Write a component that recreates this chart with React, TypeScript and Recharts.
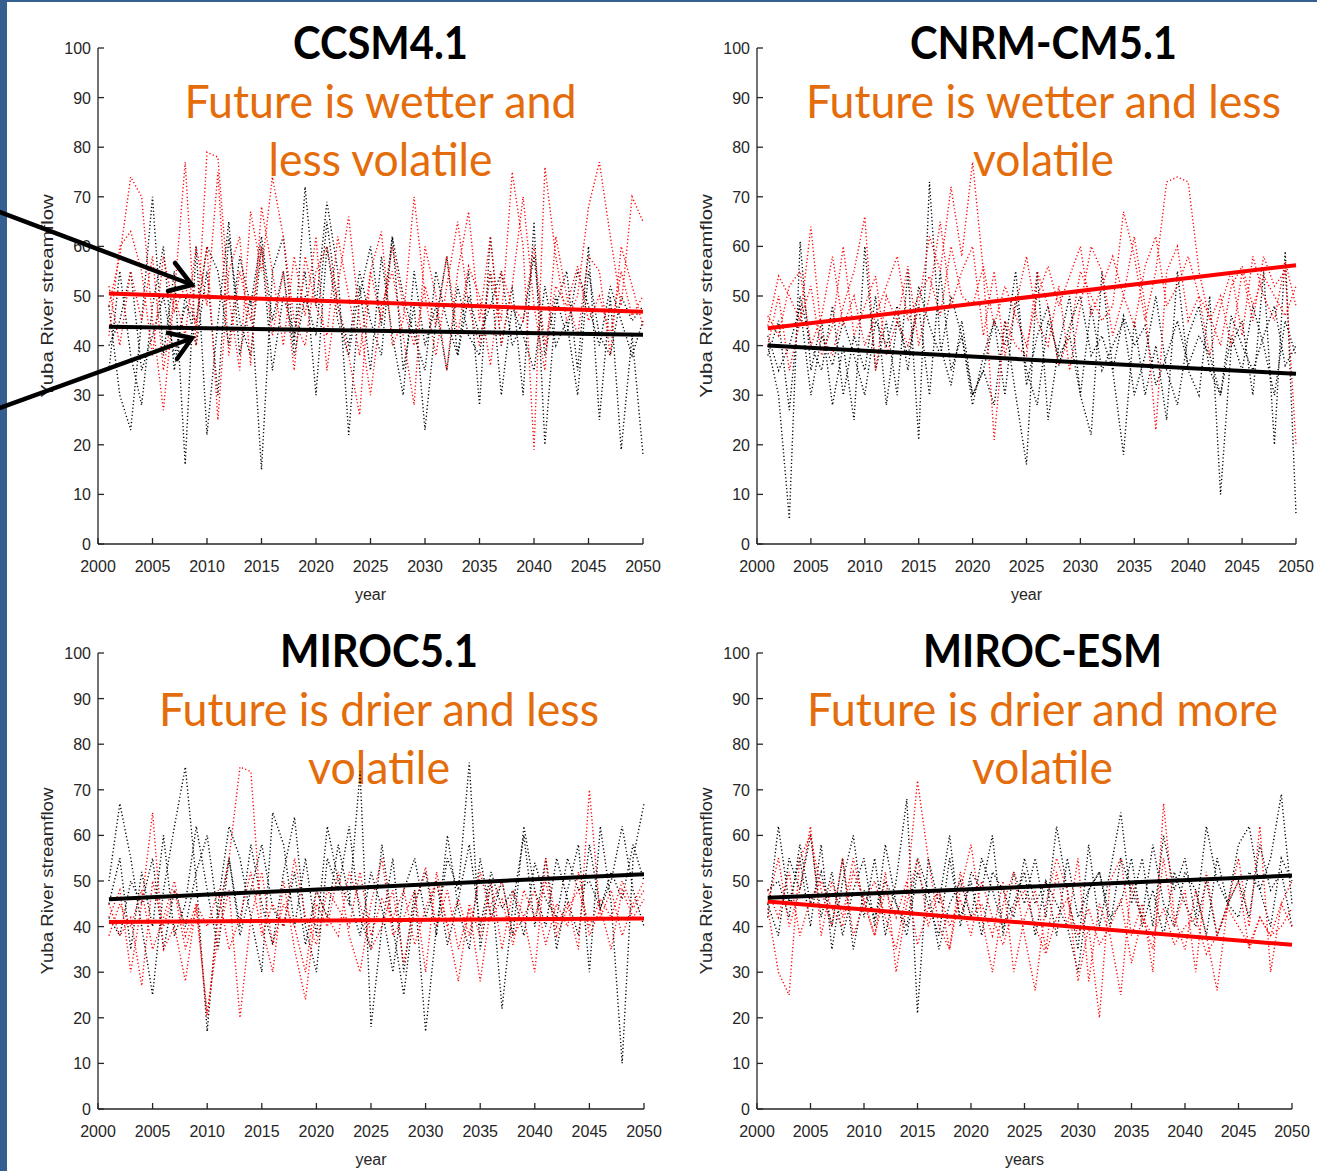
import { LineChart, Line, XAxis, YAxis } from 'recharts';

// simulation years on the x axis
const years = Array.from({ length: 50 }, (_, i) => 2001 + i);
const xTicks = [2000, 2005, 2010, 2015, 2020, 2025, 2030, 2035, 2040, 2045, 2050];
const yTicks = [0, 10, 20, 30, 40, 50, 60, 70, 80, 90, 100];

// ---- CCSM4.1 ----
const ccsmRed1 = [
  48, 58, 74, 70, 45, 27, 50, 77, 40, 79,
  78, 50, 35, 67, 55, 74, 62, 45, 40, 55,
  60, 48, 38, 26, 55, 63, 40, 45, 70, 50,
  38, 52, 65, 48, 40, 55, 45, 75, 60, 19,
  76, 58, 45, 50, 68, 77, 62, 48, 70, 65,
];
const ccsmRed2 = [
  42, 60, 63, 55, 38, 58, 47, 52, 44, 60,
  25, 55, 62, 36, 68, 55, 40, 58, 46, 62,
  35, 52, 66, 45, 30, 48, 55, 42, 28, 60,
  50, 35, 55, 67, 45, 62, 40, 52, 70, 48,
  35, 62, 50, 42, 58, 55, 38, 60, 52, 44,
];
const ccsmRed3 = [
  52, 40, 55, 45, 58, 35, 50, 42, 60, 48,
  75, 38, 55, 45, 60, 42, 55, 35, 58, 48,
  42, 62, 50, 38, 55, 45, 60, 48, 40, 52,
  44, 58, 42, 56, 50, 36, 55, 48, 45, 60,
  40, 52, 48, 56, 45, 50, 42, 55, 46, 50,
];
const ccsmBlack1 = [
  48, 30, 23, 45, 70, 38, 55, 16, 60, 22,
  45, 65, 38, 50, 15, 55, 62, 40, 72, 48,
  69, 55, 22, 50, 60, 44, 62, 35, 48, 23,
  45, 58, 38, 55, 28, 62, 40, 52, 30, 65,
  20, 48, 55, 35, 60, 25, 50, 19, 42, 18,
];
const ccsmBlack2 = [
  35, 55, 38, 28, 48, 60, 35, 50, 40, 55,
  30, 62, 45, 38, 60, 35, 50, 42, 55, 30,
  60, 45, 38, 52, 35, 58, 42, 30, 55, 40,
  48, 35, 52, 42, 38, 55, 30, 48, 42, 35,
  52, 40, 45, 30, 55, 42, 38, 50, 45, 48,
];
const ccsmBlack3 = [
  40, 45, 55, 35, 42, 50, 38, 48, 45, 60,
  55, 40, 58, 48, 62, 45, 55, 38, 50, 42,
  65, 48, 40, 55, 45, 38, 62, 50, 42, 35,
  55, 45, 38, 50, 42, 48, 55, 40, 45, 58,
  38, 50, 42, 55, 48, 40, 52, 45, 38, 45,
];
const ccsmRedTrend = [50.5, 46.8];
const ccsmBlackTrend = [43.8, 42.2];

// ---- CNRM-CM5.1 ----
const cnrmRed1 = [
  44, 54, 50, 45, 64, 42, 38, 48, 55, 66,
  35, 50, 45, 40, 48, 62, 55, 72, 58, 77,
  55, 21, 45, 40, 38, 55, 48, 36, 42, 55,
  50, 45, 48, 67, 58, 45, 55, 73, 74, 73,
  55, 45, 50, 40, 55, 45, 58, 52, 55, 20,
];
const cnrmRed2 = [
  40, 50, 35, 45, 52, 38, 44, 60, 42, 48,
  54, 38, 45, 56, 40, 50, 65, 48, 55, 60,
  42, 55, 38, 48, 58, 45, 40, 52, 35, 48,
  60, 55, 42, 50, 62, 48, 23, 55, 60, 45,
  50, 38, 48, 55, 42, 58, 50, 45, 57, 48,
];
const cnrmRed3 = [
  46, 42, 52, 55, 40, 46, 58, 44, 50, 40,
  46, 52, 58, 45, 50, 54, 46, 60, 50, 48,
  56, 44, 52, 46, 40, 50, 56, 48, 54, 60,
  46, 52, 58, 50, 44, 56, 62, 48, 52, 58,
  50, 46, 40, 52, 56, 48, 54, 50, 46, 52,
];
const cnrmBlack1 = [
  40, 30, 5, 61, 35, 45, 28, 40, 25, 60,
  35, 45, 30, 55, 21, 73, 40, 32, 45, 30,
  35, 28, 45, 30, 16, 55, 25, 40, 50, 30,
  22, 55, 35, 18, 45, 30, 40, 25, 55, 35,
  30, 50, 10, 40, 45, 30, 55, 20, 59, 6,
];
const cnrmBlack2 = [
  38, 45, 27, 50, 40, 35, 48, 30, 42, 35,
  50, 28, 45, 38, 48, 30, 55, 35, 42, 28,
  38, 45, 30, 50, 35, 28, 45, 38, 42, 30,
  48, 35, 40, 45, 30, 38, 50, 35, 28, 42,
  48, 35, 30, 42, 35, 48, 40, 30, 45, 38,
];
const cnrmBlack3 = [
  42, 35, 40, 48, 30, 42, 36, 45, 38, 30,
  45, 40, 48, 35, 52, 44, 38, 50, 42, 30,
  35, 45, 40, 55, 32, 42, 48, 36, 44, 50,
  38, 42, 35, 46, 40, 44, 32, 38, 45, 36,
  42, 38, 30, 46, 40, 35, 42, 48, 36, 40,
];
const cnrmRedTrend = [43.5, 56.2];
const cnrmBlackTrend = [40.0, 34.3];

// ---- MIROC5.1 ----
const miroc5Red1 = [
  42, 48, 30, 45, 65, 35, 40, 28, 45, 20,
  42, 55, 75, 74, 40, 30, 50, 35, 24, 45,
  40, 52, 38, 30, 45, 55, 38, 42, 48, 30,
  52, 40, 28, 45, 38, 50, 35, 48, 42, 30,
  55, 40, 45, 35, 70, 42, 48, 38, 45, 50,
];
const miroc5Red2 = [
  45, 38, 42, 27, 50, 40, 48, 35, 44, 21,
  38, 48, 20, 42, 52, 36, 45, 40, 30, 48,
  42, 38, 52, 45, 35, 40, 48, 32, 45, 53,
  40, 48, 35, 44, 28, 45, 50, 38, 42, 48,
  36, 45, 40, 52, 38, 44, 35, 48, 42, 46,
];
const miroc5Red3 = [
  38, 45, 40, 48, 35, 42, 50, 38, 45, 40,
  48, 35, 42, 52, 38, 45, 40, 55, 42, 36,
  48, 44, 40, 52, 38, 46, 42, 48, 36, 44,
  50, 40, 46, 38, 52, 42, 46, 36, 48, 42,
  50, 38, 44, 48, 40, 46, 42, 50, 44, 48,
];
const miroc5Black1 = [
  50, 67, 55, 40, 25, 48, 62, 75, 50, 17,
  45, 62, 55, 42, 30, 65, 58, 40, 55, 38,
  62, 50, 45, 74, 18, 40, 55, 30, 48, 17,
  40, 55, 48, 76, 35, 50, 22, 45, 60, 40,
  55, 35, 48, 58, 30, 62, 45, 10, 55, 67,
];
const miroc5Black2 = [
  45, 55, 35, 52, 40, 60, 38, 45, 62, 48,
  35, 55, 40, 58, 45, 36, 52, 64, 40, 30,
  55, 48, 62, 42, 35, 58, 40, 25, 45, 52,
  38, 60, 44, 35, 55, 42, 50, 38, 62, 48,
  40, 55, 46, 38, 58, 44, 50, 62, 48, 40,
];
const miroc5Black3 = [
  42, 38, 50, 45, 55, 35, 48, 40, 52, 60,
  42, 55, 38, 48, 58, 44, 40, 52, 36, 48,
  42, 58, 46, 38, 52, 44, 30, 48, 55, 42,
  50, 36, 46, 58, 40, 52, 44, 48, 38, 54,
  46, 42, 55, 48, 50, 44, 52, 46, 58, 50,
];
const miroc5RedTrend = [41.0, 41.8];
const miroc5BlackTrend = [46.0, 51.5];

// ---- MIROC-ESM ----
const mirocEsmRed1 = [
  44, 30, 25, 55, 60, 48, 40, 55, 38, 45,
  50, 42, 35, 48, 72, 55, 40, 35, 48, 58,
  42, 30, 45, 52, 38, 26, 45, 55, 48, 28,
  40, 20, 50, 55, 38, 45, 30, 67, 42, 35,
  48, 38, 26, 45, 55, 40, 62, 30, 45, 50,
];
const mirocEsmRed2 = [
  45, 55, 40, 48, 62, 38, 50, 42, 55, 45,
  38, 52, 30, 45, 55, 40, 48, 35, 52, 42,
  45, 38, 50, 30, 42, 48, 35, 52, 40, 55,
  28, 45, 38, 25, 50, 42, 35, 55, 40, 48,
  30, 52, 38, 45, 50, 35, 42, 38, 45, 40,
];
const mirocEsmRed3 = [
  48, 42, 52, 38, 46, 50, 44, 40, 52, 46,
  38, 48, 42, 50, 36, 44, 48, 40, 46, 38,
  50, 42, 36, 44, 48, 40, 34, 42, 46, 38,
  44, 36, 40, 46, 32, 42, 38, 44, 36, 40,
  42, 34, 38, 44, 40, 36, 42, 38, 40, 44,
];
const mirocEsmBlack1 = [
  42, 62, 45, 55, 40, 58, 35, 50, 60, 42,
  55, 38, 50, 68, 21, 55, 45, 60, 40, 52,
  48, 60, 38, 52, 45, 55, 42, 62, 48, 35,
  58, 40, 52, 65, 45, 55, 40, 60, 48, 55,
  42, 62, 50, 45, 58, 62, 48, 55, 69, 45,
];
const mirocEsmBlack2 = [
  45, 38, 55, 48, 60, 42, 52, 38, 48, 55,
  40, 58, 45, 38, 52, 45, 38, 55, 42, 50,
  38, 52, 48, 42, 55, 45, 50, 38, 55, 42,
  48, 52, 40, 55, 48, 42, 58, 45, 40, 52,
  48, 38, 55, 45, 50, 42, 58, 48, 52, 40,
];
const mirocEsmBlack3 = [
  48, 50, 42, 58, 45, 52, 40, 55, 35, 48,
  42, 50, 45, 40, 55, 48, 35, 45, 50, 42,
  55, 48, 40, 45, 52, 38, 50, 45, 40, 30,
  48, 52, 42, 45, 55, 40, 48, 38, 52, 45,
  40, 50, 38, 45, 42, 52, 48, 40, 55, 50,
];
const mirocEsmRedTrend = [45.5, 36.0];
const mirocEsmBlackTrend = [46.3, 51.2];

const AXIS = '#262626';
const ORANGE = '#E46C0A';
const TICK_FONT = '"Liberation Sans", Arial, sans-serif';
const TITLE_FONT = 'Lato, "Open Sans", sans-serif';

type Series = { red: number[][]; black: number[][]; redTrend: number[]; blackTrend: number[] };

const buildRows = (s: Series) =>
  years.map((year, i) => {
    const row: Record<string, number | null> = { year };
    s.red.forEach((arr, k) => (row[`r${k}`] = arr[i]));
    s.black.forEach((arr, k) => (row[`b${k}`] = arr[i]));
    const last = years.length - 1;
    row.rt = i === 0 ? s.redTrend[0] : i === last ? s.redTrend[1] : null;
    row.bt = i === 0 ? s.blackTrend[0] : i === last ? s.blackTrend[1] : null;
    return row;
  });

const Y_AXIS_W = 60;
const M_TOP = 50; // room above the plot for the titles

type PanelProps = {
  left: number;
  top: number;
  plotW: number;
  plotH: number;
  series: Series;
  title: string;
  lines: string[];
  titleW: number;
  lineW: number[];
  xLabel: string;
  titleDx: number;
  titleDy: number;
};

const Panel = ({ left, top, plotW, plotH, series, title, lines, titleW, lineW, xLabel, titleDx, titleDy }: PanelProps) => {
  const data = buildRows(series);
  const width = plotW + Y_AXIS_W + 20;
  const height = plotH + M_TOP + 60;
  const plotBottom = M_TOP + plotH;
  const cx = Y_AXIS_W + plotW / 2;
  const tx = cx + titleDx;

  const YTick = (p: any) => (
    <g>
      <line x1={Y_AXIS_W} x2={Y_AXIS_W + 6} y1={p.y} y2={p.y} stroke={AXIS} strokeWidth={1.3} />
      <text x={Y_AXIS_W - 7} y={p.y} dy={6} textAnchor="end" fontSize={16} fill={AXIS} fontFamily={TICK_FONT}>
        {p.payload.value}
      </text>
    </g>
  );
  const XTick = (p: any) => (
    <g>
      <line x1={p.x} x2={p.x} y1={plotBottom} y2={plotBottom - 6} stroke={AXIS} strokeWidth={1.3} />
      <text x={p.x} y={plotBottom + 28} textAnchor="middle" fontSize={16} fill={AXIS} fontFamily={TICK_FONT}>
        {p.payload.value}
      </text>
    </g>
  );

  return (
    <div style={{ position: 'absolute', left: left - Y_AXIS_W, top: top - M_TOP, width, height }}>
      <LineChart width={width} height={height} data={data} margin={{ top: M_TOP, right: 20, left: 0, bottom: 30 }}>
        <XAxis
          dataKey="year"
          type="number"
          domain={[2000, 2050]}
          ticks={xTicks}
          tickLine={false}
          axisLine={{ stroke: AXIS, strokeWidth: 1.3 }}
          tick={XTick}
          height={30}
          interval={0}
        />
        <YAxis
          type="number"
          domain={[0, 100]}
          ticks={yTicks}
          tickLine={false}
          axisLine={{ stroke: AXIS, strokeWidth: 1.3 }}
          tick={YTick}
          width={Y_AXIS_W}
          interval={0}
        />
        {series.black.map((_, k) => (
          <Line key={`b${k}`} dataKey={`b${k}`} stroke="#000" strokeWidth={1.4} strokeDasharray="1.2 2.4"
            dot={false} isAnimationActive={false} />
        ))}
        {series.red.map((_, k) => (
          <Line key={`r${k}`} dataKey={`r${k}`} stroke="#FF0000" strokeWidth={1.4} strokeDasharray="1.2 2.4"
            dot={false} isAnimationActive={false} />
        ))}
        <Line dataKey="rt" stroke="#FF0000" strokeWidth={4} connectNulls dot={false} isAnimationActive={false} />
        <Line dataKey="bt" stroke="#000" strokeWidth={4} connectNulls dot={false} isAnimationActive={false} />
        {/* titles and axis labels */}
        <text x={tx} y={M_TOP + 10 + titleDy} textAnchor="middle" fontSize={46} fontWeight={700} fill="#000"
          fontFamily={TITLE_FONT} textLength={titleW} lengthAdjust="spacingAndGlyphs">
          {title}
        </text>
        {lines.map((t, i) => (
          <text key={t} x={tx} y={M_TOP + 69 + titleDy + i * 58} textAnchor="middle" fontSize={46} fill={ORANGE}
            fontFamily={TITLE_FONT} textLength={lineW[i]} lengthAdjust="spacingAndGlyphs">
            {t}
          </text>
        ))}
        <text x={cx} y={plotBottom + 56} textAnchor="middle" fontSize={16} fill={AXIS} fontFamily={TICK_FONT}>
          {xLabel}
        </text>
        <text
          transform={`translate(${Y_AXIS_W - 45}, ${M_TOP + plotH / 2}) rotate(-90)`}
          textAnchor="middle"
          fontSize={16}
          fill={AXIS}
          fontFamily={TICK_FONT}
          textLength={plotH * 0.41}
          lengthAdjust="spacingAndGlyphs"
        >
          Yuba River streamflow
        </text>
      </LineChart>
    </div>
  );
};

const ccsm: Series = {
  red: [ccsmRed1, ccsmRed2, ccsmRed3],
  black: [ccsmBlack1, ccsmBlack2, ccsmBlack3],
  redTrend: ccsmRedTrend,
  blackTrend: ccsmBlackTrend,
};
const cnrm: Series = {
  red: [cnrmRed1, cnrmRed2, cnrmRed3],
  black: [cnrmBlack1, cnrmBlack2, cnrmBlack3],
  redTrend: cnrmRedTrend,
  blackTrend: cnrmBlackTrend,
};
const miroc5: Series = {
  red: [miroc5Red1, miroc5Red2, miroc5Red3],
  black: [miroc5Black1, miroc5Black2, miroc5Black3],
  redTrend: miroc5RedTrend,
  blackTrend: miroc5BlackTrend,
};
const mirocEsm: Series = {
  red: [mirocEsmRed1, mirocEsmRed2, mirocEsmRed3],
  black: [mirocEsmBlack1, mirocEsmBlack2, mirocEsmBlack3],
  redTrend: mirocEsmRedTrend,
  blackTrend: mirocEsmBlackTrend,
};

export default function App() {
  return (
    <div style={{ position: 'absolute', left: 0, top: 0, width: 1317, height: 1171, background: '#fff', overflow: 'hidden' }}>
      {/* slide frame */}
      <div style={{ position: 'absolute', left: 0, top: 0, width: 7, height: 1171, background: '#365F91' }} />
      <div style={{ position: 'absolute', left: 0, top: 0, width: 1317, height: 2, background: '#365F91' }} />

      <Panel left={98} top={48} plotW={545} plotH={496} series={ccsm} title="CCSM4.1"
        lines={['Future is wetter and', 'less volatile']} titleW={175} lineW={[392, 224]} xLabel="year"
        titleDx={10} titleDy={1} />
      <Panel left={757} top={48} plotW={539} plotH={496} series={cnrm} title="CNRM-CM5.1"
        lines={['Future is wetter and less', 'volatile']} titleW={267} lineW={[475, 141]} xLabel="year"
        titleDx={17} titleDy={1} />
      <Panel left={98} top={653} plotW={546} plotH={456} series={miroc5} title="MIROC5.1"
        lines={['Future is drier and less', 'volatile']} titleW={198} lineW={[440, 142]} xLabel="year"
        titleDx={8} titleDy={4} />
      <Panel left={757} top={653} plotW={535} plotH={456} series={mirocEsm} title="MIROC-ESM"
        lines={['Future is drier and more', 'volatile']} titleW={239} lineW={[471, 141]} xLabel="years"
        titleDx={18} titleDy={4} />

      {/* pointer arrows to the trend lines */}
      <svg width={1317} height={1171} style={{ position: 'absolute', left: 0, top: 0, pointerEvents: 'none' }}>
        <g stroke="#000" strokeWidth={4.5} fill="none" strokeLinecap="round" strokeLinejoin="miter">
          <line x1={0} y1={212} x2={190} y2={284} />
          <polyline points="175,263 192,285 168,291" />
          <line x1={0} y1={408} x2={190} y2={339} />
          <polyline points="168,333 192,338 177,359" />
        </g>
      </svg>
    </div>
  );
}
